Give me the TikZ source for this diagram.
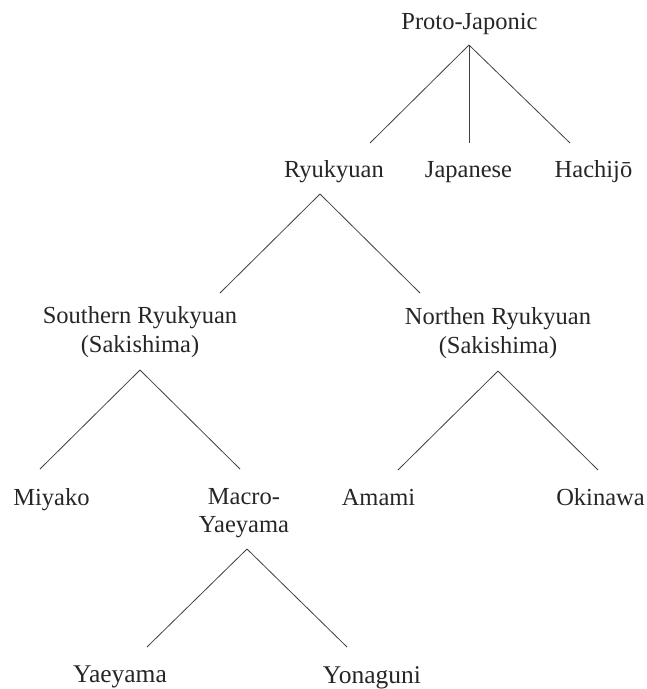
\documentclass[tikz,border=0pt]{standalone}
\usepackage{fontspec}
\setmainfont{Liberation Serif}
\begin{document}
\begin{tikzpicture}[x=1pt,y=-1pt,
  lbl/.style={inner sep=0pt, anchor=base, align=center, text=black!85,
    font=\fontsize{24.5}{29}\selectfont},
  big/.style={font=\fontsize{25.5}{30}\selectfont},
  edge/.style={draw=black!75, line width=0.8pt}]
\useasboundingbox (0,0) rectangle (647,689);
% labels (base anchor = baseline of the last line)
\node[lbl] (pj) at (469.5,29) {Proto-Japonic};
\node[lbl] (ry) at (334,177) {Ryukyuan};
\node[lbl] (ja) at (468.5,177) {Japanese};
\node[lbl] (ha) at (593.5,177) {Hachijō};
\node[lbl] (sr) at (140,352) {Southern Ryukyuan\\(Sakishima)};
\node[lbl] (nr) at (498,353) {Northen Ryukyuan\\(Sakishima)};
\node[lbl] (mi) at (51.5,505) {Miyako};
\node[lbl, font=\fontsize{24.5}{27.5}\selectfont] (my) at (244,532) {Macro-\\Yaeyama};
\node[lbl] (am) at (378.5,505) {Amami};
\node[lbl] (ok) at (600.5,505) {Okinawa};
\node[lbl,big] (ye) at (120,682) {Yaeyama};
\node[lbl,big] (yo) at (372,683) {Yonaguni};
% connector ends
\coordinate (pjA) at (469,45);
\coordinate (pjL) at (370,143);
\coordinate (pjM) at (469,143);
\coordinate (pjR) at (570,143);
\coordinate (ryA) at (320,194);
\coordinate (ryL) at (220,293);
\coordinate (ryR) at (420,293);
\coordinate (srA) at (140,370);
\coordinate (srL) at (40,469);
\coordinate (srR) at (240,469);
\coordinate (nrA) at (498,371);
\coordinate (nrL) at (398,470);
\coordinate (nrR) at (598,470);
\coordinate (myA) at (247,549);
\coordinate (myL) at (147,647);
\coordinate (myR) at (347,647);
% connectors
\draw[edge] (pjA) -- (pjL);
\draw[edge] (pjA) -- (pjM);
\draw[edge] (pjA) -- (pjR);
\draw[edge] (ryA) -- (ryL);
\draw[edge] (ryA) -- (ryR);
\draw[edge] (srA) -- (srL);
\draw[edge] (srA) -- (srR);
\draw[edge] (nrA) -- (nrL);
\draw[edge] (nrA) -- (nrR);
\draw[edge] (myA) -- (myL);
\draw[edge] (myA) -- (myR);
\end{tikzpicture}
\end{document}
